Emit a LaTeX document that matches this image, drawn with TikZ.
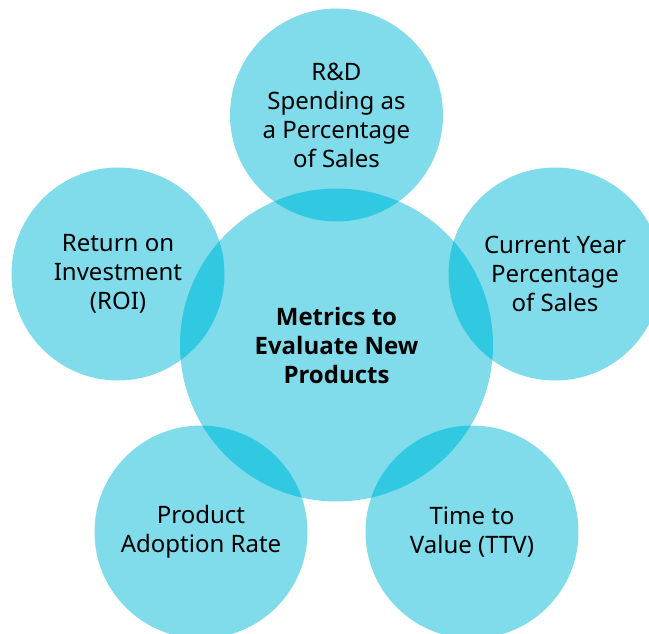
\documentclass[tikz,border=0pt]{standalone}
\usepackage{fontspec}
\setmainfont{Noto Sans}
\newfontfamily\hubfont{Open Sans}
\usepackage{xcolor}
\usepackage{tikz}
\usetikzlibrary{positioning}
\definecolor{BubbleCyan}{HTML}{80DCEB}
\definecolor{OverlapCyan}{HTML}{31C9E2}

\begin{document}
\begin{tikzpicture}[
  x=1pt,y=-1pt,
  metric/.style={circle,fill=BubbleCyan,minimum size=213pt,inner sep=0pt,align=center,font=\fontsize{24}{29}\selectfont},
  hub/.style={metric,minimum size=313pt,font=\hubfont\fontsize{24}{29}\selectfont\bfseries},
  lens/.style={fill=OverlapCyan}
]
\useasboundingbox (0,0) rectangle (649,634);
\node[hub] (hub) at (336.5,345) {Metrics to\\Evaluate New\\Products};
\node[metric] (rd) at (336.5,115) {R\&D\\Spending as\\a Percentage\\of Sales};
\node[metric] (cur) at (555,274) {Current Year\\Percentage\\of Sales};
\node[metric] (ttv) at (472,532) {Time to\\Value (TTV)};
\node[metric] (adopt) at (201,532) {Product\\Adoption Rate};
\node[metric] (roi) at (118,274) {Return on\\Investment\\(ROI)};
% darker lenses where the bubbles meet the hub
\begin{scope}
  \clip (hub.center) circle[radius=156.5pt];
  \foreach \m in {rd,cur,ttv,adopt,roi}
    \fill[lens] (\m.center) circle[radius=106.5pt];
\end{scope}
\end{tikzpicture}
\end{document}
